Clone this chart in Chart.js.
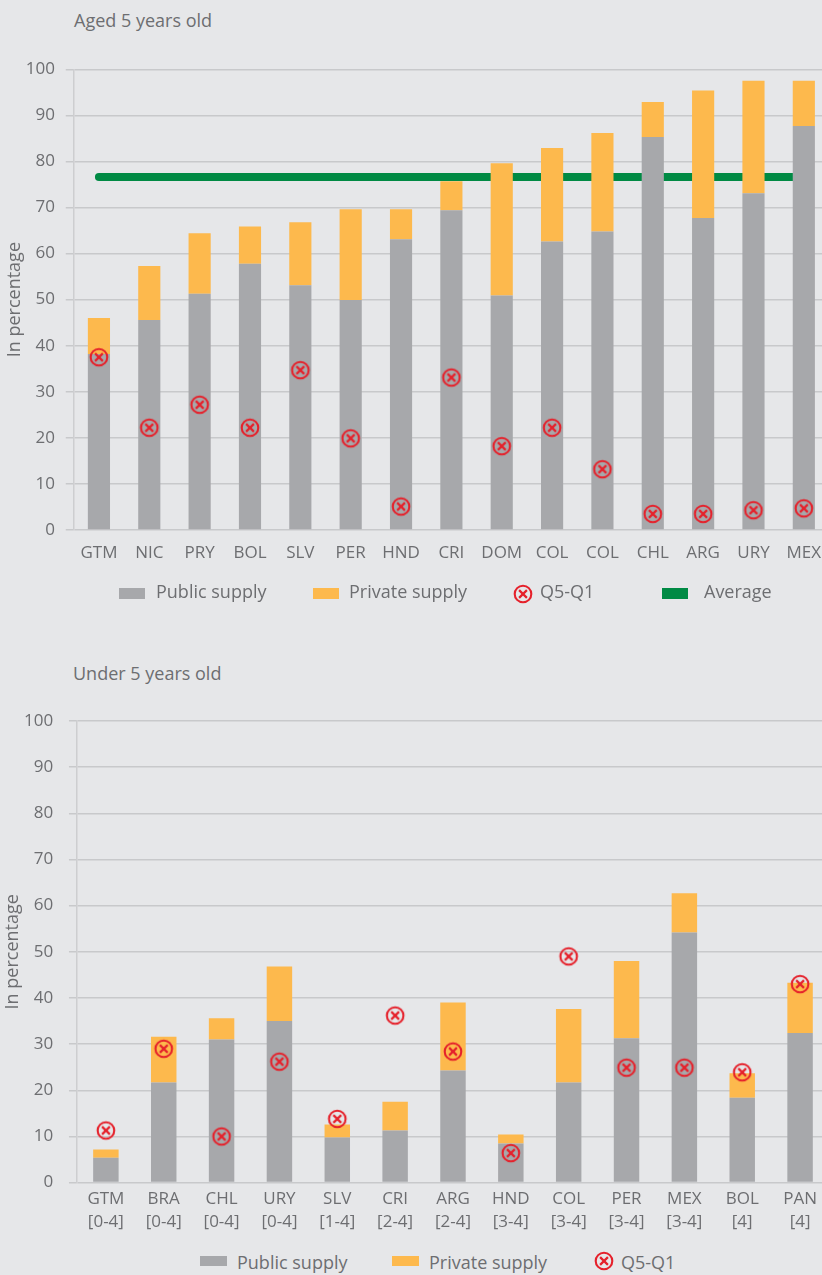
<!DOCTYPE html>
<html>
<head>
<meta charset="utf-8">
<script src="https://cdn.jsdelivr.net/npm/chart.js@4/dist/chart.umd.min.js"></script>
<style>
html, body { margin: 0; padding: 0; background: #e6e7e9; }
body { width: 822px; height: 1275px; overflow: hidden; position: relative; font-family: "Open Sans", sans-serif; color: #6d6e71; }
.title { position: absolute; font-size: 18px; line-height: 24px; white-space: nowrap; }
.box { position: absolute; left: 0; width: 840px; }
.leg-icon { position: absolute; }
.leg-text { position: absolute; font-size: 18px; line-height: 24px; white-space: nowrap; }
</style>
</head>
<body>
<div class="title" style="left:74px; top:8px;">Aged 5 years old</div>
<div class="box" style="top:0; height:580px;"><canvas id="chartTop"></canvas></div>
<div class="title" style="left:73px; top:661px;">Under 5 years old</div>
<div class="box" style="top:650px; height:590px;"><canvas id="chartBottom"></canvas></div>
<div id="legendTop"></div>
<div id="legendBottom"></div>
<script>
// ---------- DATA: Aged 5 years old ----------
const topCategories = ['GTM', 'NIC', 'PRY', 'BOL', 'SLV', 'PER', 'HND', 'CRI', 'DOM', 'COL', 'COL', 'CHL', 'ARG', 'URY', 'MEX'];
const topPublicSupply = [38.2, 45.6, 51.3, 57.8, 53.1, 49.9, 63.1, 69.4, 50.9, 62.6, 64.8, 85.3, 67.7, 73.1, 87.7];
const topPrivateSupply = [7.8, 11.7, 13.1, 8.1, 13.7, 19.7, 6.5, 6.3, 28.7, 20.3, 21.4, 7.6, 27.7, 24.4, 9.8];
const topQ5Q1 = [37.5, 22.2, 27.2, 22.2, 34.7, 19.9, 5.1, 33.1, 18.2, 22.2, 13.2, 3.5, 3.5, 4.3, 4.7];
const topAverage = 76.6;

// ---------- DATA: Under 5 years old ----------
const bottomCategories = [['GTM', '[0-4]'], ['BRA', '[0-4]'], ['CHL', '[0-4]'], ['URY', '[0-4]'], ['SLV', '[1-4]'], ['CRI', '[2-4]'], ['ARG', '[2-4]'], ['HND', '[3-4]'], ['COL', '[3-4]'], ['PER', '[3-4]'], ['MEX', '[3-4]'], ['BOL', '[4]'], ['PAN', '[4]']];
const bottomPublicSupply = [5.4, 21.7, 31.0, 35.0, 9.8, 11.3, 24.3, 8.5, 21.7, 31.3, 54.2, 18.4, 32.4];
const bottomPrivateSupply = [1.8, 9.9, 4.6, 11.8, 2.8, 6.2, 14.7, 1.9, 15.9, 16.7, 8.5, 5.3, 10.9];
const bottomQ5Q1 = [11.3, 29.0, 10.0, 26.2, 13.8, 36.2, 28.4, 6.4, 49.0, 24.9, 24.9, 23.9, 43.0];

const yTicks = [0, 10, 20, 30, 40, 50, 60, 70, 80, 90, 100];
const seriesNames = ['Public supply', 'Private supply', 'Q5-Q1', 'Average'];

// ---------- STYLE ----------
const FONT = '"Open Sans", sans-serif';
const TEXT = '#6d6e71';
const GRID = '#c8c9cb';
const AXIS = '#cdced0';
const GRAY = '#a7a8ab';
const ORANGE = '#fdb94d';
const GREEN = '#008a44';
const RED = '#e5212b';

function makeMarker() {
  const s = 22, c = document.createElement('canvas');
  c.width = s; c.height = s;
  const g = c.getContext('2d');
  const m = s / 2;
  g.strokeStyle = RED; g.lineWidth = 2.1;
  g.beginPath(); g.arc(m, m, 8.3, 0, Math.PI * 2); g.stroke();
  const a = 3.9;
  g.lineWidth = 2.2;
  g.beginPath();
  g.moveTo(m - a, m - a); g.lineTo(m + a, m + a);
  g.moveTo(m + a, m - a); g.lineTo(m - a, m + a);
  g.stroke();
  return c;
}
const marker = makeMarker();

function buildChart(canvas, cats, pub, priv, q, avg, cfg) {
  const datasets = [
    { type: 'bar', label: seriesNames[0], data: pub, backgroundColor: GRAY, barPercentage: 0.44, categoryPercentage: 1, order: 1, stack: 'supply' },
    { type: 'bar', label: seriesNames[1], data: priv, backgroundColor: ORANGE, barPercentage: 0.44, categoryPercentage: 1, order: 1, stack: 'supply' },
    { type: 'line', label: seriesNames[2], data: q, showLine: false, pointStyle: marker, pointRadius: 10, pointHoverRadius: 10, backgroundColor: RED, borderColor: RED, order: 0, stack: 'q' }
  ];
  if (avg !== null) {
    datasets.push({
      type: 'line', label: seriesNames[3],
      data: [{ x: cats[0], y: avg }, { x: cats[cats.length - 1], y: avg }],
      borderColor: GREEN, backgroundColor: GREEN, borderWidth: 8, borderCapStyle: 'round',
      pointRadius: 0, pointHoverRadius: 0, order: 3, stack: 'avg'
    });
  }
  const tl = cfg.tickLen;
  return new Chart(canvas, {
    data: { labels: cats, datasets },
    options: {
      responsive: true, maintainAspectRatio: false, animation: false, devicePixelRatio: 1,
      layout: { padding: cfg.padding },
      plugins: { legend: { display: false }, tooltip: { enabled: false }, title: { display: false } },
      scales: {
        x: {
          stacked: true, offset: true,
          grid: { display: false, drawTicks: false },
          border: { display: false },
          ticks: { color: TEXT, font: { family: FONT, size: 17, lineHeight: cfg.xLineHeight }, padding: cfg.xPad, maxRotation: 0, autoSkip: false }
        },
        y: {
          stacked: true, min: yTicks[0], max: yTicks[yTicks.length - 1],
          afterBuildTicks: (s) => { s.ticks = yTicks.map(v => ({ value: v })); },
          ticks: { color: TEXT, font: { family: FONT, size: 17 }, padding: 0 },
          grid: { color: GRID, lineWidth: 1.5, tickLength: tl, tickBorderDash: [8, tl - 8], tickBorderDashOffset: 8 },
          border: { display: true, color: AXIS, width: 1.5 },
          title: { display: true, text: 'In percentage', color: TEXT, font: { family: FONT, size: 18 }, padding: 0 }
        }
      }
    }
  });
}

function buildLegend(el, chart, layout) {
  chart.data.datasets.forEach((ds, i) => {
    const it = layout.items[i];
    if (!it) return;
    let icon;
    if (ds.pointStyle && ds.showLine === false) {
      icon = document.createElement('img');
      icon.src = ds.pointStyle.toDataURL();
      icon.style.width = '22px'; icon.style.height = '22px';
      icon.style.left = (it.icon - 11) + 'px';
      icon.style.top = (layout.y - 11) + 'px';
    } else {
      icon = document.createElement('div');
      icon.style.width = layout.bw + 'px'; icon.style.height = layout.bh + 'px';
      icon.style.background = ds.type === 'line' ? ds.borderColor : ds.backgroundColor;
      icon.style.left = it.icon + 'px';
      icon.style.top = (layout.y - layout.bh / 2) + 'px';
    }
    icon.className = 'leg-icon';
    el.appendChild(icon);
    const t = document.createElement('div');
    t.className = 'leg-text';
    t.textContent = ds.label;
    t.style.left = it.text + 'px';
    t.style.top = layout.textTop + 'px';
    el.appendChild(t);
  });
}

const chartTop = buildChart(document.getElementById('chartTop'), topCategories, topPublicSupply, topPrivateSupply, topQ5Q1, topAverage,
  { padding: { top: 69.3, bottom: 3.6, left: 4.2, right: 11 }, tickLen: 18.8, xPad: 13, xLineHeight: 1.2 });
const chartBottom = buildChart(document.getElementById('chartBottom'), bottomCategories, bottomPublicSupply, bottomPrivateSupply, bottomQ5Q1, null,
  { padding: { top: 71, bottom: 1.7, left: 2.5, right: 8.5 }, tickLen: 23.7, xPad: 5.4, xLineHeight: 1.32 });

buildLegend(document.getElementById('legendTop'), chartTop,
  { y: 593.5, textTop: 579, bw: 26, bh: 11, items: [{ icon: 119, text: 156 }, { icon: 313, text: 349 }, { icon: 523, text: 540 }, { icon: 662, text: 704 }] });
buildLegend(document.getElementById('legendBottom'), chartBottom,
  { y: 1260.5, textTop: 1250, bw: 27, bh: 10, items: [{ icon: 200, text: 237 }, { icon: 392, text: 429 }, { icon: 604, text: 621 }] });
</script>
</body>
</html>
